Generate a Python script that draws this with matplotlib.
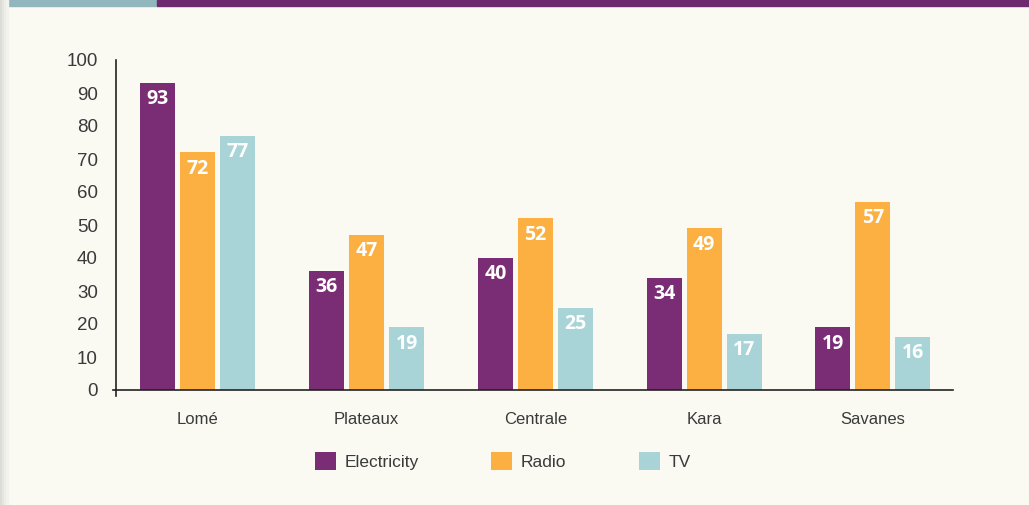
import matplotlib
matplotlib.use("Agg")
import matplotlib.pyplot as plt
import numpy as np
from matplotlib.patches import Rectangle

regions = ["Lomé", "Plateaux", "Centrale", "Kara", "Savanes"]
electricity = [93, 36, 40, 34, 19]
radio = [72, 47, 52, 49, 57]
tv = [77, 19, 25, 17, 16]
series_names = ["Electricity", "Radio", "TV"]
colors = ["#7a2d75", "#fdb042", "#a8d4d8"]
yticks = [0, 10, 20, 30, 40, 50, 60, 70, 80, 90, 100]

bg = "#fafaf3"
label_font = ["Liberation Sans", "DejaVu Sans"]

fig = plt.figure(figsize=(10.29, 5.05), dpi=100, facecolor=bg)

# top strip and left shadow
fig.patches.append(Rectangle((8/1029, 1 - 6/505), 149/1029, 6/505, transform=fig.transFigure,
                             color="#92b6bd", zorder=0))
fig.patches.append(Rectangle((157/1029, 1 - 6/505), 1 - 157/1029, 6/505, transform=fig.transFigure,
                             color="#6e2a6e", zorder=0))
for i, c in enumerate(["#dcdcd6", "#e6e6e0", "#eeeee8", "#f3f3ed"]):
    fig.patches.append(Rectangle((i*2/1029, 0), 2/1029, 1, transform=fig.transFigure,
                                 color=c, zorder=0))

ax = fig.add_axes([116/1029, 1 - 390/505, (953 - 116)/1029, 330/505])
ax.set_facecolor(bg)

x = np.arange(len(regions))
w = 0.207
step = 0.237
for k, (vals, name, col) in enumerate(zip([electricity, radio, tv], series_names, colors)):
    pos = x + (k - 1) * step
    ax.bar(pos, vals, width=w, color=col, label=name, zorder=2)
    for px, v in zip(pos, vals):
        ax.text(px, v - 1.9, str(v), ha="center", va="top", color="white",
                fontsize=14, fontweight="bold", family=["Open Sans", "DejaVu Sans"], zorder=3)

ax.set_xlim(-0.485, 4.475)
ax.set_ylim(0, 100)
ax.set_yticks(yticks)
ax.set_yticklabels([str(t) for t in yticks], fontsize=13.5, color="#3a3a3a", family=label_font)
ax.tick_params(axis="y", length=0, pad=13)
ax.set_xticks(x)
ax.set_xticklabels(regions, fontsize=12, color="#3a3a3a", family=label_font)
ax.tick_params(axis="x", length=0, pad=16)

for s in ["top", "right"]:
    ax.spines[s].set_visible(False)
ax.spines["left"].set_color("#222222")
ax.spines["bottom"].set_color("#222222")
ax.spines["left"].set_linewidth(1.2)
ax.spines["bottom"].set_linewidth(1.2)
# small tick marks at the origin
ax.plot([-0.485, -0.485], [0, -1.8], color="#222222", lw=1.2, clip_on=False)
ax.plot([-0.485 - 0.018, -0.485], [0, 0], color="#222222", lw=1.2, clip_on=False)

leg = fig.legend(loc="center", bbox_to_anchor=(503/1029, 1 - 461/505), ncol=3, frameon=False,
                 handlelength=1.2, handleheight=1.2, handletextpad=0.5, columnspacing=4.2,
                 prop={"family": label_font, "size": 12.5})
for t in leg.get_texts():
    t.set_color("#3a3a3a")

fig.savefig("out.png", dpi=100, facecolor=bg)
